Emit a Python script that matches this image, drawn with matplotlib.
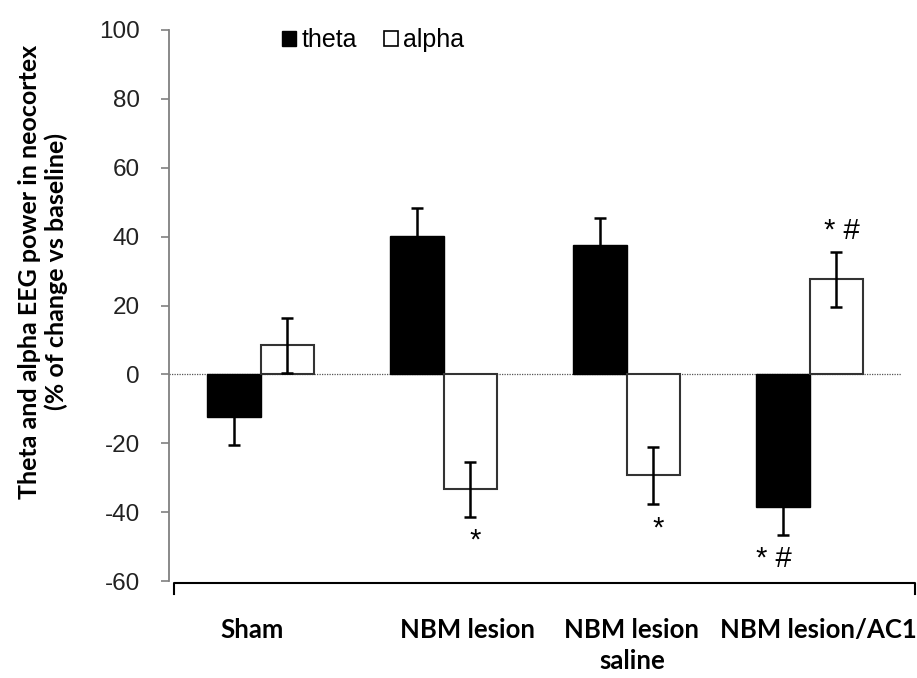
import matplotlib
matplotlib.use("Agg")
import matplotlib.pyplot as plt
from matplotlib.lines import Line2D
from matplotlib.patches import Patch
import numpy as np

plt.rcParams["axes.unicode_minus"] = False

categories = ["Sham", "NBM lesion", "NBM lesion\nsaline", "NBM lesion/AC1"]
theta = [-12.5, 40.3, 37.5, -38.5]
theta_err = [8.0, 8.0, 8.0, 8.0]
alpha = [8.4, -33.3, -29.3, 27.6]
alpha_err = [8.0, 8.0, 8.3, 8.0]
theta_marks = ["", "", "", "* #"]
alpha_marks = ["", "*", "*", "* #"]
yticks = [-60, -40, -20, 0, 20, 40, 60, 80, 100]

W, H = 917, 678
fig = plt.figure(figsize=(W / 100, H / 100), dpi=100)
ax = fig.add_axes([169 / W, 1 - 581 / H, (901 - 169) / W, (581 - 30) / H])

x = np.arange(len(categories))
bw = 0.29
ax.bar(x - bw / 2, theta, bw, color="black", edgecolor="black", linewidth=1.0, zorder=3)
ax.bar(x + bw / 2, alpha, bw, color="white", edgecolor="#333333", linewidth=1.5, zorder=3)
ax.errorbar(x - bw / 2, theta, yerr=theta_err, fmt="none", ecolor="black",
            elinewidth=1.8, capsize=4, capthick=1.8, zorder=4)
ax.errorbar(x + bw / 2, alpha, yerr=alpha_err, fmt="none", ecolor="black",
            elinewidth=1.8, capsize=4, capthick=1.8, zorder=4)

ax.axhline(0, color="#555555", linestyle=(0, (1, 1)), linewidth=0.9, zorder=2)

ax.set_xlim(-0.5, 3.5)
ax.set_ylim(-60, 100)
ax.set_yticks(yticks)
ax.set_xticks([])
for s in ["top", "right", "bottom"]:
    ax.spines[s].set_visible(False)
ax.spines["left"].set_color("#808080")
ax.spines["left"].set_linewidth(1.3)
ax.tick_params(axis="y", direction="out", length=6, width=1.2, color="#808080",
               labelsize=17.5, pad=15, labelcolor="#222222")
for lab in ax.get_yticklabels():
    lab.set_fontfamily("Liberation Sans")

# significance marks
def mark(xpos, val, err, txt):
    if not txt:
        return
    if val < 0:
        ax.text(xpos, val - err - 3, txt, ha="center", va="top", fontsize=21,
                family="Liberation Sans")
    else:
        ax.text(xpos, val + err + 2, txt, ha="center", va="bottom", fontsize=21,
                family="Liberation Sans")

for i in range(len(categories)):
    mark(x[i] - bw / 2 - 0.05, theta[i], theta_err[i], theta_marks[i])
    mark(x[i] + bw / 2 + 0.03, alpha[i], alpha_err[i], alpha_marks[i])

# y label
fig.text(43 / W, 1 - 272 / H, "Theta and alpha EEG power in neocortex\n(% of change vs baseline)",
         rotation=90, ha="center", va="center", fontsize=18, fontweight="bold",
         family="Lato", linespacing=1.15)

# category labels
label_x = [252, 468, 632, 818]
for lx, c in zip(label_x, categories):
    fig.text(lx / W, 1 - 618 / H, c, ha="center", va="top", fontsize=18.5,
             fontweight="bold", family="Lato", linespacing=1.35)

# bracket line
fig.add_artist(Line2D([174 / W, 174 / W, 915 / W, 915 / W],
                      [1 - 594 / H, 1 - 582.5 / H, 1 - 582.5 / H, 1 - 594 / H],
                      color="black", linewidth=1.5, transform=fig.transFigure))

# legend
handles = [Patch(facecolor="black", edgecolor="black", label="theta"),
           Patch(facecolor="white", edgecolor="black", linewidth=1.2, label="alpha")]
leg = fig.legend(handles=handles, ncol=2, frameon=False, loc="center left",
                 bbox_to_anchor=(282 / W, 1 - 40 / H),
                 handlelength=0.55, handleheight=0.55, handletextpad=0.22,
                 columnspacing=1.1, borderaxespad=0, borderpad=0,
                 prop={"family": "Liberation Sans", "size": 18})

fig.savefig("out.png", dpi=100)
